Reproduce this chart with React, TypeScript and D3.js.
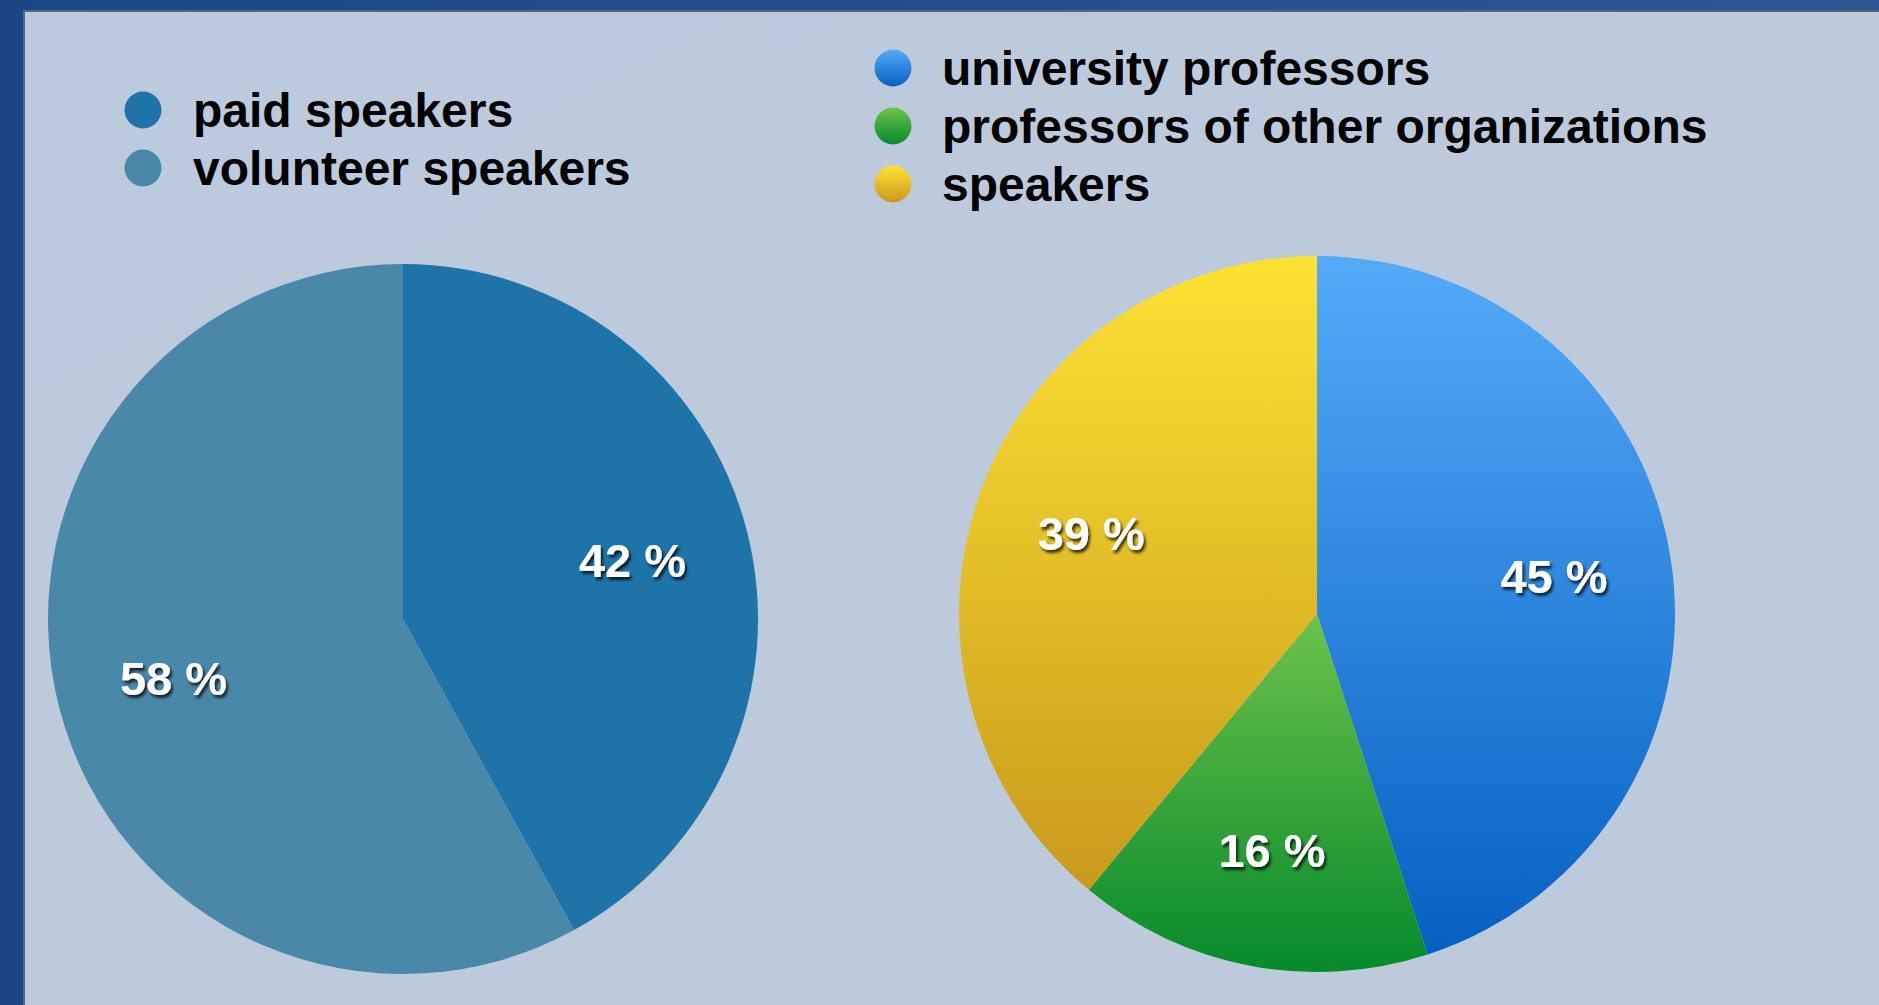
import React from 'react';
import * as d3 from 'd3';

// left pie: speakers by pay
const speakerTypes = ['paid speakers', 'volunteer speakers'];
const speakerShares = [42, 58];
const speakerColors = ['#1e74a8', '#4a88aa'];

// right pie: who gives the talks
const teacherTypes = ['university professors', 'professors of other organizations', 'speakers'];
const teacherShares = [45, 16, 39];
const teacherGradients: Array<[string, string]> = [
  ['#55abf8', '#0560c2'],
  ['#6dc24b', '#068a2c'],
  ['#fde233', '#c89a1c'],
];

const W = 1879;
const H = 1005;
const FONT = '"Liberation Sans", Arial, Helvetica, sans-serif';

const pie = d3.pie<number>().sort(null).value(d => d);

export default function App() {
  const leftArcs = pie(speakerShares);
  const rightArcs = pie(teacherShares);

  const leftR = 355;
  const rightR = 358;
  const leftArc = d3.arc<d3.PieArcDatum<number>>().innerRadius(0).outerRadius(leftR);
  const rightArc = d3.arc<d3.PieArcDatum<number>>().innerRadius(0).outerRadius(rightR);
  const leftLabel = d3.arc<d3.PieArcDatum<number>>().innerRadius(237).outerRadius(237);
  const rightLabel = d3.arc<d3.PieArcDatum<number>>().innerRadius(240).outerRadius(240);

  const legendStep = 58;

  return (
    <div style={{ position: 'fixed', left: 0, top: 0 }}>
      <svg width={W} height={H} style={{ display: 'block' }}>
        <defs>
          <linearGradient id="frame" x1="0" y1="0" x2="1" y2="0">
            <stop offset="0" stopColor="#1b4687" />
            <stop offset="1" stopColor="#2f5693" />
          </linearGradient>
          <linearGradient id="panel" x1="0" y1="0" x2="1" y2="1">
            <stop offset="0" stopColor="#bccadd" />
            <stop offset="1" stopColor="#bdcadb" />
          </linearGradient>
          {teacherGradients.map((g, i) => (
            <linearGradient key={i} id={`tg${i}`} x1="0" y1="0" x2="0" y2="1">
              <stop offset="0" stopColor={g[0]} />
              <stop offset="1" stopColor={g[1]} />
            </linearGradient>
          ))}
          <filter id="shadow" x="-20%" y="-20%" width="140%" height="160%">
            <feDropShadow dx="2" dy="3" stdDeviation="1.6" floodColor="#000" floodOpacity="0.75" />
          </filter>
        </defs>

        <rect x={0} y={0} width={W} height={H} fill="url(#frame)" />
        <rect x={23} y={10} width={W - 23} height={H - 10} fill="#56657c" />
        <rect x={25} y={12} width={W - 25} height={H - 12} fill="url(#panel)" />

        {/* left legend */}
        <g fontFamily={FONT} fontWeight="bold" fontSize={48} fill="#000">
          {speakerTypes.map((t, i) => (
            <g key={t} transform={`translate(0,${i * legendStep})`}>
              <circle cx={143} cy={110} r={18.5} fill={speakerColors[i]} />
              <text x={193} y={127}>{t}</text>
            </g>
          ))}
        </g>

        {/* right legend */}
        <g fontFamily={FONT} fontWeight="bold" fontSize={48} fill="#000">
          {teacherTypes.map((t, i) => (
            <g key={t} transform={`translate(0,${i * legendStep})`}>
              <circle cx={893} cy={68} r={18.5} fill={`url(#tg${i})`} />
              <text x={942} y={85}>{t}</text>
            </g>
          ))}
        </g>

        {/* left pie */}
        <g transform="translate(403,619)">
          {leftArcs.map((a, i) => (
            <path key={i} d={leftArc(a) || ''} fill={speakerColors[i]} />
          ))}
          {leftArcs.map((a, i) => {
            const [x, y] = leftLabel.centroid(a);
            return (
              <text key={i} x={x} y={y + 17} textAnchor="middle" fontFamily={FONT}
                fontWeight="bold" fontSize={47} fill="#fff" filter="url(#shadow)">
                {`${speakerShares[i]} %`}
              </text>
            );
          })}
        </g>

        {/* right pie */}
        <g transform="translate(1317,614)">
          {rightArcs.map((a, i) => (
            <path key={i} d={rightArc(a) || ''} fill={`url(#tg${i})`} />
          ))}
          {rightArcs.map((a, i) => {
            const [x, y] = rightLabel.centroid(a);
            return (
              <text key={i} x={x} y={y + 17} textAnchor="middle" fontFamily={FONT}
                fontWeight="bold" fontSize={47} fill="#fff" filter="url(#shadow)">
                {`${teacherShares[i]} %`}
              </text>
            );
          })}
        </g>
      </svg>
    </div>
  );
}
